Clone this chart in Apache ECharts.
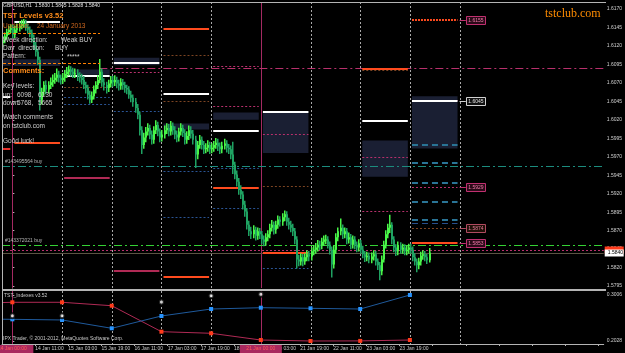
<!DOCTYPE html>
<html>
<head>
<meta charset="utf-8">
<title>GBPUSD H1 - TST Levels</title>
<script src="https://cdn.jsdelivr.net/npm/echarts@6/dist/echarts.min.js"></script>
<style>
html, body { margin: 0; padding: 0; background: #000; }
#chart { width: 625px; height: 353px; }
</style>
</head>
<body>
<div id="chart"></div>
<script>
// hourly bars, index 0 = 14 Jan 00:00, weekend skipped (18 Jan -> 21 Jan)
// prices in points (1/10000)
var firstBar = -5;
var firstOpen = 16124;
var dayNames = ['14 Jan', '15 Jan', '16 Jan', '17 Jan', '18 Jan', '21 Jan', '22 Jan', '23 Jan', '24 Jan', '25 Jan'];

var closePts = [
  16128,16133,16139,16142,16144,
  16135,16142,16144,16147,16150,16151,16146,16142,16138,16131,16121,16112,16101,16047,16058,16067,16061,16067,16071,16074,16077,16081,16077,16074,
  16077,16082,16085,16088,16085,16082,16083,16079,16077,16074,16067,16063,16054,16047,16052,16061,16067,16074,16085,16071,16067,16063,16069,16074,
  16071,16074,16069,16066,16071,16067,16063,16061,16054,16050,16044,16036,16027,16006,15986,15996,16004,16009,16000,15993,16006,16013,16004,15996,
  16000,16006,16009,16004,16012,16006,16000,15996,16004,16009,16002,15993,15998,16006,16001,15993,15973,15986,15993,15986,15980,15982,15986,15980,
  15982,15986,15989,15984,15980,15985,15988,15982,15980,15973,15959,15946,15936,15925,15919,15905,15896,15878,15869,15865,15871,15863,15869,15865,
  15858,15855,15861,15865,15874,15878,15871,15878,15885,15882,15888,15892,15882,15878,15874,15869,15858,15831,15828,15834,15828,15834,15838,15835,
  15842,15844,15847,15851,15850,15855,15858,15858,15851,15844,15824,15844,15861,15869,15874,15865,15869,15858,15861,15851,15858,15851,15847,15853,
  15844,15838,15834,15836,15831,15835,15838,15828,15823,15815,15831,15851,15865,15874,15878,15858,15847,15842,15850,15844,15847,15842,15844,15847,
  15844,15834,15828,15823,15828,15836,15838,15834,15830,15840
];
var highPts = [
  16132,16137,16142,16146,16148,
  16148,16146,16149,16152,16154,16155,16154,16149,16145,16141,16134,16124,16115,16104,16062,16071,16072,16071,16076,16080,16082,16088,16085,16080,
  16082,16086,16090,16092,16091,16089,16088,16087,16083,16081,16078,16070,16066,16058,16057,16065,16071,16079,16101,16088,16075,16070,16073,16078,
  16078,16079,16077,16073,16075,16074,16070,16066,16064,16058,16053,16048,16040,16030,16010,16001,16009,16014,16012,16004,16010,16018,16016,16007,
  16005,16011,16014,16013,16017,16015,16010,16004,16008,16014,16012,16006,16003,16011,16010,16005,15997,15990,15998,15996,15990,15987,15991,15989,
  15987,15990,15994,15993,15988,15989,15993,15991,15986,15984,15989,15962,15950,15940,15930,15922,15909,15899,15882,15874,15876,15874,15873,15872,
  15868,15862,15865,15869,15878,15883,15881,15882,15889,15888,15892,15896,15895,15886,15882,15878,15872,15861,15836,15838,15837,15838,15842,15841,
  15846,15849,15852,15856,15855,15859,15862,15863,15861,15854,15847,15848,15865,15873,15885,15877,15873,15872,15866,15864,15862,15861,15854,15857,
  15856,15848,15841,15840,15839,15839,15842,15841,15831,15826,15835,15855,15869,15878,15890,15880,15861,15850,15854,15853,15851,15850,15848,15851,
  15851,15847,15838,15831,15832,15840,15842,15841,15837,15845
];
var lowPts = [
  16120,16125,16130,16136,16139,
  16131,16132,16139,16141,16144,16146,16142,16138,16133,16126,16116,16107,16096,16034,16042,16054,16056,16057,16063,16066,16070,16073,16072,16069,
  16070,16073,16078,16081,16080,16078,16078,16074,16072,16069,16063,16057,16049,16043,16044,16049,16057,16063,16071,16066,16061,16057,16059,16065,
  16066,16067,16064,16061,16062,16062,16058,16056,16050,16045,16039,16031,16022,16000,15975,15982,15991,16000,15995,15988,15989,16002,15999,15991,
  15992,15996,16002,15999,16000,16001,15995,15991,15992,16000,15998,15988,15989,15994,15996,15988,15956,15968,15982,15981,15975,15976,15978,15975,
  15976,15978,15982,15979,15975,15976,15981,15977,15975,15968,15948,15941,15931,15920,15914,15900,15890,15873,15864,15860,15861,15858,15859,15860,
  15853,15850,15851,15857,15861,15870,15866,15867,15874,15877,15878,15884,15878,15873,15869,15864,15853,15820,15823,15824,15823,15825,15830,15830,
  15831,15838,15840,15843,15845,15846,15851,15853,15847,15839,15808,15820,15840,15857,15865,15860,15861,15853,15854,15846,15847,15846,15842,15843,
  15840,15834,15829,15830,15827,15827,15831,15824,15818,15804,15811,15828,15847,15861,15868,15853,15842,15837,15838,15840,15840,15838,15838,15840,
  15840,15830,15824,15815,15819,15824,15832,15830,15826,15828
];

// daily TST level boxes: [day, top, bottom] (day -1 = previous session)
var levelBoxes = [
  [-1, 16102, 16093], [0, 16102, 16093], [1, 16088, 16081], [2, 16104, 16094],
  [3, 16015, 16007], [4, 16030, 16020], [5, 16030, 15975], [7, 15992, 15943], [8, 16052, 15981]
];
// daily TST level lines: [day, price, kind]
var levelLines = [
  [-1, 16051, 'white'], [-1, 15980, 'red'],
  [0, 16152, 'white'], [0, 15989, 'orange'],
  [1, 16079, 'white'], [1, 16065, 'brownDot'], [1, 16051, 'blueDot'], [1, 16042, 'blueDot'], [1, 15941, 'crimson'],
  [2, 16097, 'white'], [2, 16085, 'pinkDot'], [2, 16032, 'blueDot'], [2, 15815, 'crimson'],
  [3, 16143, 'orange'], [3, 16108, 'brownDot'], [3, 16055, 'white'], [3, 16045, 'brownDot'], [3, 15951, 'blueDot'], [3, 15889, 'blueDot'], [3, 15807, 'orange'],
  [4, 16093, 'pinkDot'], [4, 16039, 'pinkDot'], [4, 16005, 'white'], [4, 15955, 'blueDot'], [4, 15927, 'orange'], [4, 15901, 'blueDot'],
  [5, 16030, 'white'], [5, 16001, 'pinkDot'], [5, 15930, 'brownDot'], [5, 15839, 'orange'], [5, 15820, 'blueDot'],
  [7, 16089, 'orange'], [7, 16087, 'brownDot'], [7, 16019, 'white'], [7, 15970, 'pinkDot'], [7, 15897, 'pinkDot'],
  [8, 16155, 'orangeDot'], [8, 16047, 'pinkDot'], [8, 16045, 'white'], [8, 15986, 'tealDash'], [8, 15961, 'tealDash'],
  [8, 15935, 'tealDash'], [8, 15929, 'pinkDot'], [8, 15909, 'tealDash'], [8, 15884, 'tealDash'], [8, 15880, 'blueDash'],
  [8, 15874, 'brownDot'], [8, 15853, 'orange']
];
// price tags right of the current day: [price, kind]
var levelTags = [[16155, 'pink'], [16045, 'white'], [15929, 'pink'], [15874, 'brown'], [15853, 'pink']];
// chart-wide lines: [fromBar, price, kind, label]
var wideLines = [
  [42, 16090, 'pinkDashDot', ''],
  [-5, 15958, 'tealDashDot', '#143495564 buy'],
  [-5, 15851, 'greenDashDot', '#143372021 buy'],
  [-5, 15844, 'pinkDot', ''],
  [-5, 15840, 'bidLine', '']
];
var bidPts = 15840, askPts = 15844;
var priceTicks = [1.5795, 1.5820, 1.5845, 1.5870, 1.5895, 1.5920, 1.5945, 1.5970, 1.5995, 1.6020, 1.6045, 1.6070, 1.6095, 1.6120, 1.6145, 1.6170];

// TST_Indexes sub window, one point per session start
var indexBars = [-5, 0, 24, 48, 72, 96, 120, 144, 168, 192];
var indexRed = [0.2845, 0.2851, 0.2851, 0.2778, 0.2226, 0.2192, 0.2049, 0.2028, 0.2030, 0.2049];
var indexBlue = [0.2491, 0.2489, 0.2475, 0.2298, 0.2560, 0.2708, 0.2736, 0.2723, 0.2708, 0.3006];
var indexSignals = [[0, 0.2566, '#c8508a'], [24, 0.2566, '#c8508a'], [72, 0.2857, '#9ec4c0'], [96, 0.2991, '#a8d8d0'], [120, 0.3021, '#d8d8d8']];
var indexTicks = [0.2028, 0.3006];

var sessionBars = [0, 24, 48, 72, 96, 120, 144, 168, 192, 216];
var weekBars = [0, 120];

var xMin = -5, xMax = 285.6;
var lastBar = firstBar + closePts.length - 1;
var FONT = '"Liberation Sans", Arial, sans-serif';

var kinds = {
  white:        { stroke: '#ffffff', w: 2, dash: null },
  red:          { stroke: '#e8302a', w: 2, dash: null },
  orange:       { stroke: '#ff4b1e', w: 2, dash: null },
  orangeDot:    { stroke: '#ff4b1e', w: 2, dash: [2, 1] },
  crimson:      { stroke: '#b02a55', w: 2, dash: null },
  pinkDot:      { stroke: '#b8306c', w: 1, dash: [2, 2] },
  brownDot:     { stroke: '#7c4422', w: 1, dash: [2, 2] },
  blueDot:      { stroke: '#2a5494', w: 1, dash: [2, 2] },
  tealDash:     { stroke: '#2a7496', w: 2, dash: [6, 4] },
  blueDash:     { stroke: '#28508c', w: 1, dash: [6, 4] },
  pinkDashDot:  { stroke: '#b8306c', w: 1, dash: [8, 3, 2, 3] },
  tealDashDot:  { stroke: '#1c8c7e', w: 1, dash: [8, 3, 2, 3] },
  greenDashDot: { stroke: '#34d234', w: 1, dash: [8, 3, 2, 3] },
  bidLine:      { stroke: '#5c5444', w: 1, dash: null }
};
var tagStyles = {
  pink:  { stroke: '#c03070', text: '#f07aa8', fill: '#2a0a18' },
  white: { stroke: '#d0d0d0', text: '#e0e0e0', fill: '#101010' },
  brown: { stroke: '#b04a60', text: '#e07a98', fill: '#201008' }
};

function pt(v) { return v / 10000; }

function barLabel(v) {
  v = Math.round(v);
  if (v < 0 || v > lastBar) return '';
  var d = Math.floor(v / 24), h = v % 24;
  return dayNames[d] + ' ' + (h < 10 ? '0' : '') + h + ':00';
}

function crisp(y, w) { return w % 2 ? Math.round(y) + 0.5 : Math.round(y); }

var candleData = closePts.map(function (c, i) {
  var o = i ? closePts[i - 1] : firstOpen;
  return [firstBar + i, pt(o), pt(c), pt(lowPts[i]), pt(highPts[i])];
});

var boxData = levelBoxes.map(function (b) {
  return [Math.max(24 * b[0] + 1, xMin), 24 * b[0] + 23, pt(b[1]), pt(b[2])];
});
var lineData = levelLines.map(function (l) {
  return [Math.max(24 * l[0] + 1, xMin), 24 * l[0] + 23, pt(l[1]), l[2]];
});
var wideData = wideLines.map(function (l) { return [l[0], xMax, pt(l[1]), l[2], l[3]]; });

function renderSeg(params, api) {
  var k = kinds[api.value(3)];
  var a = api.coord([api.value(0), api.value(2)]);
  var b = api.coord([api.value(1), api.value(2)]);
  var y = crisp(a[1], k.w);
  var els = [{
    type: 'line',
    shape: { x1: a[0], y1: y, x2: b[0], y2: y },
    style: { stroke: k.stroke, lineWidth: k.w, lineDash: k.dash }
  }];
  var label = api.value(4);
  if (label) {
    els.push({
      type: 'text', x: a[0] + 3, y: y - 2,
      style: { text: label, font: '5px ' + FONT, fill: '#b8b8b8', align: 'left', verticalAlign: 'bottom' }
    });
  }
  return { type: 'group', children: els };
}

function renderSessions(params, api) {
  var cs = params.coordSys;
  var x = Math.round(api.coord([api.value(0), 0])[0]) + 0.5;
  var week = api.value(1) === 1;
  return {
    type: 'line',
    shape: { x1: x, y1: cs.y, x2: x, y2: cs.y + cs.height },
    style: week ? { stroke: '#a42a62', lineWidth: 1 } : { stroke: '#a8a8a8', lineWidth: 1, lineDash: [2, 2] }
  };
}
var sessionData = sessionBars.map(function (b) { return [b, weekBars.indexOf(b) >= 0 ? 1 : 0]; });

var option = {
  backgroundColor: '#000000',
  animation: false,
  grid: [
    { left: 2, right: 19, top: 2, height: 286 },
    { left: 2, right: 19, top: 291, height: 53 }
  ],
  xAxis: [
    { type: 'value', gridIndex: 0, min: xMin, max: xMax, show: false },
    {
      type: 'value', gridIndex: 1, min: xMin, max: xMax, interval: 16,
      axisLine: { lineStyle: { color: '#b4b4b4' } },
      axisTick: { length: 2, lineStyle: { color: '#b4b4b4' } },
      splitLine: { show: false },
      axisLabel: {
        formatter: barLabel, showMinLabel: false, showMaxLabel: false,
        align: 'left', margin: 2, fontSize: 5, fontFamily: FONT, color: '#c8c8c8'
      }
    }
  ],
  yAxis: [
    {
      type: 'value', gridIndex: 0, position: 'right', min: 1.579229, max: 1.617948,
      axisLine: { show: true, lineStyle: { color: '#b4b4b4' } },
      axisTick: { show: true, length: 2, customValues: priceTicks, lineStyle: { color: '#b4b4b4' } },
      splitLine: { show: false },
      axisLabel: {
        customValues: priceTicks, formatter: function (v) { return v.toFixed(4); },
        margin: 3, fontSize: 5, fontFamily: FONT, color: '#d0d0d0'
      }
    },
    {
      type: 'value', gridIndex: 1, position: 'right', min: 0.19642, max: 0.30911,
      axisLine: { show: true, lineStyle: { color: '#b4b4b4' } },
      axisTick: { show: true, length: 2, customValues: indexTicks, lineStyle: { color: '#b4b4b4' } },
      splitLine: { show: false },
      axisLabel: {
        customValues: indexTicks, formatter: function (v) { return v.toFixed(4); },
        margin: 3, fontSize: 5, fontFamily: FONT, color: '#d0d0d0'
      }
    }
  ],
  series: [
    // session separators
    { type: 'custom', xAxisIndex: 0, yAxisIndex: 0, renderItem: renderSessions, data: sessionData, z: 1 },
    { type: 'custom', xAxisIndex: 1, yAxisIndex: 1, renderItem: renderSessions, data: sessionData, z: 1 },
    // level boxes
    {
      type: 'custom', xAxisIndex: 0, yAxisIndex: 0, z: 2, data: boxData,
      renderItem: function (params, api) {
        var a = api.coord([api.value(0), api.value(2)]);
        var b = api.coord([api.value(1), api.value(3)]);
        return { type: 'rect', shape: { x: a[0], y: a[1], width: b[0] - a[0], height: b[1] - a[1] }, style: { fill: '#1a1f33' } };
      }
    },
    // wide lines (orders, bid/ask)
    { type: 'custom', xAxisIndex: 0, yAxisIndex: 0, z: 3, data: wideData, renderItem: renderSeg },
    // daily level lines
    { type: 'custom', xAxisIndex: 0, yAxisIndex: 0, z: 4, data: lineData, renderItem: renderSeg },
    // candles
    {
      type: 'custom', xAxisIndex: 0, yAxisIndex: 0, z: 5, data: candleData,
      renderItem: function (params, api) {
        var x = Math.round(api.coord([api.value(0), 0])[0]);
        var o = api.coord([0, api.value(1)])[1];
        var c = api.coord([0, api.value(2)])[1];
        var l = api.coord([0, api.value(3)])[1];
        var h = api.coord([0, api.value(4)])[1];
        var col = api.value(2) >= api.value(1) ? '#48f548' : '#1fa262';
        var top = Math.min(o, c), bot = Math.max(o, c);
        return {
          type: 'group', children: [
            { type: 'line', shape: { x1: x + 0.75, y1: h - 1, x2: x + 0.75, y2: l + 1 }, style: { stroke: col, lineWidth: 1.5 } },
            { type: 'rect', shape: { x: x, y: top, width: 2, height: Math.max(bot - top, 1) }, style: { fill: col } }
          ]
        };
      }
    },
    // level price tags
    {
      type: 'custom', xAxisIndex: 0, yAxisIndex: 0, z: 6, clip: false,
      data: levelTags.map(function (t) { return [216, 219, pt(t[0]), t[1]]; }),
      renderItem: function (params, api) {
        var s = tagStyles[api.value(3)];
        var a = api.coord([api.value(0), api.value(2)]);
        var b = api.coord([api.value(1), api.value(2)]);
        var y = Math.round(a[1]) + 0.5;
        return {
          type: 'group', children: [
            { type: 'line', shape: { x1: a[0], y1: y, x2: b[0], y2: y }, style: { stroke: s.stroke, lineWidth: 1 } },
            { type: 'rect', shape: { x: Math.round(b[0]) + 0.5, y: y - 4, width: 19, height: 8 }, style: { fill: s.fill, stroke: s.stroke, lineWidth: 1 } },
            { type: 'text', x: Math.round(b[0]) + 10, y: y, style: { text: api.value(2).toFixed(4), font: '5px ' + FONT, fill: s.text, align: 'center', verticalAlign: 'middle' } }
          ]
        };
      }
    },
    // bid / ask tags on the price scale
    {
      type: 'custom', xAxisIndex: 0, yAxisIndex: 0, z: 7, clip: false,
      data: [[pt(askPts), 0], [pt(bidPts), 1]],
      renderItem: function (params, api) {
        var cs = params.coordSys;
        var y = api.coord([0, api.value(0)])[1];
        var bid = api.value(1) === 1;
        var x0 = cs.x + cs.width + 1;
        var els = [{ type: 'rect', shape: { x: x0, y: Math.round(y) - 3.5, width: 19, height: 7 }, style: { fill: bid ? '#ffffff' : '#ff3a1a' } }];
        if (bid) {
          els.push({ type: 'text', x: x0 + 3, y: Math.round(y), style: { text: api.value(0).toFixed(4), font: '5px ' + FONT, fill: '#000000', align: 'left', verticalAlign: 'middle' } });
        }
        return { type: 'group', children: els };
      }
    },
    // TST_Indexes lines
    {
      type: 'line', xAxisIndex: 1, yAxisIndex: 1, z: 4,
      data: indexBars.map(function (b, i) { return { value: [b, indexRed[i]], symbol: b < 0 ? 'none' : 'rect' }; }),
      lineStyle: { color: '#b02a55', width: 1 }, symbolSize: 4, showAllSymbol: true,
      itemStyle: { color: '#ff3a1a' }
    },
    {
      type: 'line', xAxisIndex: 1, yAxisIndex: 1, z: 4,
      data: indexBars.map(function (b, i) { return { value: [b, indexBlue[i]], symbol: b < 0 ? 'none' : 'rect' }; }),
      lineStyle: { color: '#1f5a9c', width: 1 }, symbolSize: 4, showAllSymbol: true,
      itemStyle: { color: '#2894ff' }
    },
    {
      type: 'scatter', xAxisIndex: 1, yAxisIndex: 1, z: 5,
      data: indexSignals.map(function (s) { return { value: [s[0], s[1]], itemStyle: { borderColor: s[2] } }; }),
      symbol: 'emptyCircle', symbolSize: 5,
      itemStyle: { color: '#000', borderWidth: 1 }
    },
    // week-start time tags on the time scale
    {
      type: 'custom', xAxisIndex: 1, yAxisIndex: 1, z: 8, clip: false,
      data: weekBars.map(function (b) { return [b]; }),
      renderItem: function (params, api) {
        var cs = params.coordSys;
        var x = api.coord([api.value(0), 0])[0];
        var x0 = Math.max(x - 21, 0);
        var y0 = cs.y + cs.height + 1;
        return {
          type: 'group', children: [
            { type: 'rect', shape: { x: x0, y: y0, width: x + 21 - x0, height: 8 }, style: { fill: '#a8285e' } },
            { type: 'text', x: x, y: y0 + 4, style: { text: barLabel(api.value(0)), font: '5px ' + FONT, fill: '#ff5a5a', align: 'center', verticalAlign: 'middle' } }
          ]
        };
      }
    }
  ],
  graphic: []
};

function txt(x, y, s, color, font) {
  return { type: 'text', x: x, y: y, z: 100, style: { text: s, fill: color, font: font || ('6.5px ' + FONT), align: 'left', verticalAlign: 'middle' } };
}
var small = '5px ' + FONT;
var body = '6.5px ' + FONT;
var boldF = 'bold 7.5px ' + FONT;
var grey = '#cfcfcf';
var info = '#d2691e';

option.graphic = [
  // panel frame
  { type: 'line', z: 90, shape: { x1: 2, y1: 2.5, x2: 606, y2: 2.5 }, style: { stroke: '#b4b4b4', lineWidth: 1 } },
  { type: 'line', z: 90, shape: { x1: 2.5, y1: 2, x2: 2.5, y2: 344 }, style: { stroke: '#b4b4b4', lineWidth: 1 } },
  { type: 'rect', z: 90, shape: { x: 2, y: 289, width: 604, height: 2 }, style: { fill: '#b4b4b4' } },
  // chart header and TST Levels text block
  txt(3, 6, 'GBPUSD,H1  1.5830 1.5845 1.5828 1.5840', '#e0e0e0', small),
  txt(3, 16, 'TST Levels v3.52', '#ff8c1a', boldF),
  txt(3, 26, 'Updated:', info, body),
  txt(37, 26, '24 January 2013', info, body),
  { type: 'line', z: 90, shape: { x1: 3, y1: 33.5, x2: 100, y2: 33.5 }, style: { stroke: '#ff8000', lineWidth: 1, lineDash: [3, 2] } },
  txt(3, 40, 'Week direction:', grey, body),
  txt(61, 40, 'Weak BUY', grey, body),
  txt(3, 48, 'Day  direction:', grey, body),
  txt(55, 48, 'BUY', grey, body),
  txt(3, 56, 'Pattern:', grey, body),
  txt(67, 57, '*****', grey, body),
  { type: 'line', z: 90, shape: { x1: 3, y1: 63.5, x2: 100, y2: 63.5 }, style: { stroke: '#ff8000', lineWidth: 1, lineDash: [3, 2] } },
  txt(3, 71, 'Comments:', '#ff8c1a', boldF),
  txt(3, 86, 'Key levels:', grey, body),
  txt(3, 95, 'up:', grey, body),
  txt(17, 95, '6098,', grey, body),
  txt(38, 95, '6130', grey, body),
  txt(3, 103, 'down', grey, body),
  txt(17, 103, '5768,', grey, body),
  txt(38, 103, '5665', grey, body),
  txt(3, 117, 'Watch comments', grey, body),
  txt(3, 126, 'on tstclub.com', grey, body),
  txt(3, 141, 'Good luck!', grey, body),
  txt(545, 14, 'tstclub.com', '#ff8c00', '12px "Liberation Serif", serif'),
  // sub window texts
  txt(4, 296, 'TST_Indexes v3.52', '#c8c8c8', small),
  txt(3, 339, 'IPX Trader, \u00a9 2001-2012, MetaQuotes Software Corp.', '#c8c8c8', small)
];

var chart = echarts.init(document.getElementById('chart'));
chart.setOption(option);
</script>
</body>
</html>
